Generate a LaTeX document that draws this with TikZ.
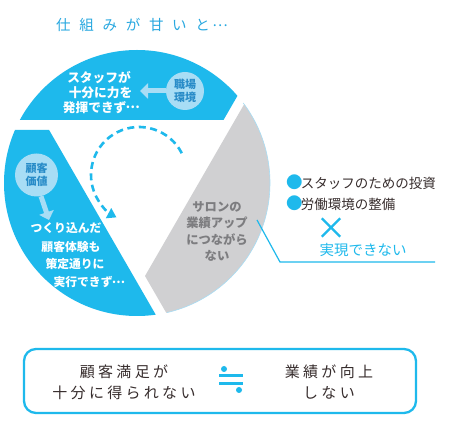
\documentclass[tikz,border=0pt]{standalone}
\usepackage{fontspec}
\setmainfont{Noto Sans CJK JP}
\newfontfamily\jp{Noto Sans CJK JP}
\newfontfamily\jptitle[LetterSpace=60]{Noto Sans CJK JP}
\newfontfamily\jpbox[LetterSpace=22]{Noto Sans CJK JP}
\newcommand{\fwdots}{\makebox[1em][c]{\raisebox{0.3em}{…}}}
\usetikzlibrary{arrows.meta}
\definecolor{cmain}{RGB}{30,185,236}
\definecolor{ctitle}{RGB}{40,168,224}
\definecolor{clight}{RGB}{168,221,245}
\definecolor{cdeep}{RGB}{40,140,200}
\definecolor{cgray}{RGB}{208,208,210}
\definecolor{cgraytxt}{RGB}{125,125,128}
\definecolor{cdark}{RGB}{55,45,45}
\begin{document}
\begin{tikzpicture}[x=1pt,y=-1pt,
  wtxt/.style={text=white, font=\jp\bfseries\fontsize{12.7}{15}\selectfont, inner sep=0pt, text height=11pt, text depth=1.5pt},
  wtxtb/.style={text=white, font=\jp\bfseries\fontsize{11.8}{14}\selectfont, inner sep=0pt, text height=10.2pt, text depth=1.4pt},
  gtxt/.style={text=cgraytxt, font=\jp\bfseries\fontsize{12.3}{14}\selectfont, inner sep=0pt, text height=10.6pt, text depth=1.4pt},
  ltxt/.style={text=cdark, font=\jp\fontsize{13.5}{15}\selectfont, inner sep=0pt, text height=11.9pt, text depth=1.6pt, anchor=west},
  rtxt/.style={text=cmain, font=\jp\fontsize{14.5}{16}\selectfont, inner sep=0pt, text height=12.8pt, text depth=1.7pt},
  btxt/.style={text=cdark, font=\jpbox\fontsize{15}{17}\selectfont, inner sep=0pt, text height=13.2pt, text depth=1.8pt},
  bubble/.style={circle, fill=clight, inner sep=0pt, align=center, text=cdeep, font=\jp\bfseries\fontsize{11}{12.5}\selectfont},
  fatarrow/.style={clight, line width=5pt, -{Triangle[length=8pt,width=15pt]}}
]
\fill[white] (0,0) rectangle (450,438);
\useasboundingbox (0,0) rectangle (450,438);

% title
\node[text=ctitle, font=\jptitle\fontsize{14.5}{16}\selectfont, inner sep=0pt, anchor=west] (title) at (56,25) {仕組みが甘いと\hspace{3pt}\fwdots};

% pie
\coordinate (O) at (137,183);
\begin{scope}
  \clip (O) circle[radius=133pt];
  \fill[cmain] (-50,120) -- (223.5,120) -- (321.6,-50) -- (-50,-50) -- cycle;
  \fill[cmain] (-50,130) -- (49.1,130) -- (205,400) -- (-50,400) -- cycle;
  \fill[cgray] (145,276) -- (333.2,-50) -- (400,-50) -- (400,400) -- (216.6,400) -- cycle;
\end{scope}
\draw[clight, line width=0.6pt] (O) ++(-37:133) arc[start angle=-37,end angle=77,radius=133];

% cycle arrow
\coordinate (M) at (139,175);
\draw[cmain, line width=2.6pt, dash pattern=on 7pt off 4.5pt, -{Triangle[length=9pt,width=11pt]}] (M) ++(-27:48) arc[start angle=-27,end angle=-242,radius=48];

% top segment
\node[bubble, minimum size=38pt] (shokuba) at (185,91) {職場\\環境};
\node[wtxt] (t1) at (99,77.5) {スタッフが};
\node[wtxt] (t2) at (100.5,92.5) {十分に力を};
\node[wtxt] (t3) at (101,108) {発揮できず\fwdots};
\coordinate (a1) at (140,91);
\draw[fatarrow] (shokuba.west) -- (a1);

% left segment
\node[bubble, minimum size=43pt] (kokyaku) at (36.5,175) {顧客\\価値};
\coordinate (a2) at (49,220);
\draw[fatarrow] (kokyaku.-78) -- (a2);
\node[wtxtb] (l1) at (66,228.3) {つくり込んだ};
\node[wtxtb] (l2) at (71,246.7) {顧客体験も};
\node[wtxtb] (l3) at (75,264) {策定通りに};
\node[wtxtb] (l4) at (89,282.3) {実行できず\fwdots};

% gray segment
\node[gtxt] (g1) at (217,207) {サロンの};
\node[gtxt] (g2) at (217,223) {業績アップ};
\node[gtxt] (g3) at (217,240) {につながら};
\node[gtxt] (g4) at (217,256) {ない};

% right side
\node[ltxt] (b1) at (286,183) {\textcolor{cmain}{\fontsize{16.5}{16}\selectfont ●}\kern-1.8pt スタッフのための投資};
\node[ltxt] (b2) at (286,204) {\textcolor{cmain}{\fontsize{16.5}{16}\selectfont ●}\kern-1.8pt 労働環境の整備};
\coordinate (x0) at (331,227.5);
\draw[cmain, line width=2.4pt] (x0) +(-9.2,-9.2) -- +(9.2,9.2) (x0) +(9.2,-9.2) -- +(-9.2,9.2);
\node[rtxt] (r) at (363,250) {実現できない};
\coordinate (c0) at (257,220);
\coordinate (c1) at (280,262);
\coordinate (c2) at (435,262);
\draw[cmain, line width=1.2pt] (c0) -- (c1) -- (c2);

% bottom box
\node[draw=cmain, line width=2.3pt, rounded corners=12pt, minimum width=392pt, minimum height=64pt, inner sep=0pt] (box) at (220,381) {};
\node[btxt] (k1) at (124,372) {顧客満足が};
\node[btxt] (k2) at (124,393) {十分に得られない};
\node[btxt] (k3) at (329,372) {業績が向上};
\node[btxt] (k4) at (329,393) {しない};
\coordinate (eq) at (231,379.5);
\fill[cmain] (224,369) circle[radius=3pt];
\fill[cmain] (239,390) circle[radius=3pt];
\draw[cmain, line width=3.2pt] (219,375.5) -- (243,375.5) (219,383.5) -- (243,383.5);
\end{tikzpicture}
\end{document}
